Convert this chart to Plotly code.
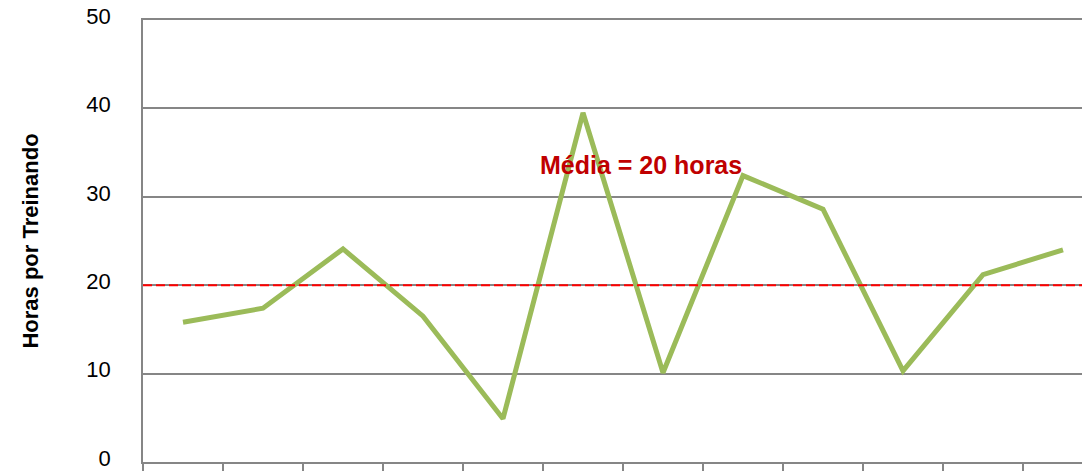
import plotly.graph_objects as go

# Horas de treinamento por treinando em cada período
periodos = list(range(12))
horas = [15.8, 17.4, 24.1, 16.5, 4.9, 39.5, 10.1, 32.4, 28.6, 10.3, 21.2, 24.0]
media = 20
y_ticks = [0, 10, 20, 30, 40, 50]

fig = go.Figure()

fig.add_trace(go.Scatter(
    x=periodos, y=horas, mode="lines",
    line=dict(color="#9BBB59", width=5),
    hoverinfo="skip", showlegend=False,
))

# Linha da média
fig.add_trace(go.Scatter(
    x=[-0.5, 12], y=[media, media], mode="lines",
    line=dict(color="#FF0000", width=2, dash="9px,4px"),
    hoverinfo="skip", showlegend=False,
))

fig.add_annotation(
    x=5.72, y=33.6, xref="x", yref="y",
    text=f"<b>Média = {media} horas</b>", showarrow=False,
    font=dict(family="Liberation Sans, Arial", size=25, color="#C00000"),
)

fig.update_layout(
    width=1082, height=471,
    margin=dict(l=143, r=0, t=20, b=9, autoexpand=False),
    plot_bgcolor="white", paper_bgcolor="white",
    xaxis=dict(
        range=[-0.5, -0.5 + 939 / 80], automargin=False,
        tickmode="array", tickvals=[i - 0.5 for i in range(13)],
        showticklabels=False, ticks="outside", ticklen=9,
        tickcolor="#868686", tickwidth=1.5,
        showgrid=False, zeroline=False, mirror=True,
        showline=True, linecolor="#868686", linewidth=1.5,
    ),
    yaxis=dict(
        range=[0, 50], tickmode="array", tickvals=y_ticks, automargin=False,
        showgrid=True, gridcolor="#868686", gridwidth=1.5,
        zeroline=False, showline=True, linecolor="#868686", linewidth=1.5,
        ticks="", ticklabelstandoff=26, ticklabeloverflow="allow",
        ticklabelshift=-4,
        tickfont=dict(family="Liberation Sans, Arial", size=22, color="black"),
        title=dict(text="<b>Horas por Treinando</b>", standoff=42,
                   font=dict(family="Liberation Sans, Arial", size=22, color="black")),
    ),
)

fig.write_html("out.html")
